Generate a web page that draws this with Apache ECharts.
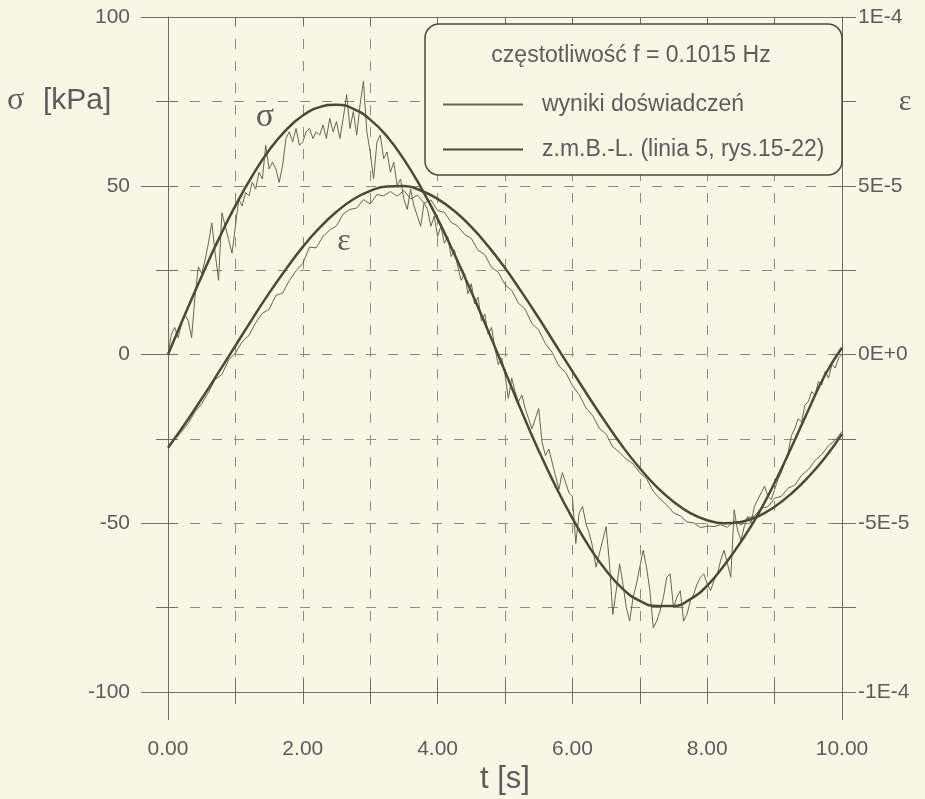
<!DOCTYPE html>
<html>
<head>
<meta charset="utf-8">
<script src="https://cdn.jsdelivr.net/npm/echarts@6/dist/echarts.min.js"></script>
<style>
html,body{margin:0;padding:0;background:#f8f7e6;}
#c{width:925px;height:799px;}
</style>
</head>
<body>
<div id="c"></div>
<script>
// ---- data ----
const tModel = [0,0.25,0.5,0.75,1,1.25,1.5,1.75,2,2.25,2.5,2.75,3,3.25,3.5,3.75,4,4.25,4.5,4.75,5,5.25,5.5,5.75,6,6.25,6.5,6.75,7,7.25,7.5,7.75,8,8.25,8.5,8.75,9,9.25,9.5,9.75,10];
const sigmaModel = [0,11.8,23.2,34.1,44.1,52.9,60.5,66.5,70.8,73.3,74.0,72.8,69.6,64.6,57.8,49.6,40.2,29.7,18.6,7.0,-5.0,-17.0,-28.5,-39.0,-48.5,-57.0,-64.0,-69.5,-73.0,-74.5,-74.5,-72.5,-68.5,-62.5,-55.5,-47.5,-38.0,-27.5,-16.5,-6.0,2.0];
const epsModel = [-27.6e-6,-20.6e-6,-13.1e-6,-5.3e-6,2.6e-6,10.5e-6,18.2e-6,25.3e-6,31.9e-6,37.6e-6,42.3e-6,46.0e-6,48.5e-6,49.8e-6,49.9e-6,48.6e-6,46.1e-6,42.5e-6,37.8e-6,32.1e-6,25.6e-6,18.4e-6,10.8e-6,2.9e-6,-5.0e-6,-12.8e-6,-20.3e-6,-27.4e-6,-33.7e-6,-39.2e-6,-43.6e-6,-47.0e-6,-49.1e-6,-50.0e-6,-49.6e-6,-48.0e-6,-45.1e-6,-41.2e-6,-36.3e-6,-30.5e-6,-23.6e-6];

const tSigmaExp = [0,0.05,0.1,0.15,0.2,0.25,0.3,0.35,0.4,0.45,0.5,0.55,0.6,0.65,0.7,0.75,0.8,0.85,0.9,0.95,
1,1.05,1.1,1.15,1.2,1.25,1.3,1.35,1.4,1.45,1.5,1.55,1.6,1.65,1.7,1.75,1.8,1.85,1.9,1.95,
2,2.05,2.1,2.15,2.2,2.25,2.3,2.35,2.4,2.45,2.5,2.55,2.6,2.65,2.7,2.75,2.8,2.85,2.9,2.95,
3,3.05,3.1,3.15,3.2,3.25,3.3,3.35,3.4,3.45,3.5,3.55,3.6,3.65,3.7,3.75,3.8,3.85,3.9,3.95,
4,4.05,4.1,4.15,4.2,4.25,4.3,4.35,4.4,4.45,4.5,4.55,4.6,4.65,4.7,4.75,4.8,4.85,4.9,4.95,
5,5.05,5.1,5.15,5.2,5.25,5.3,5.35,5.4,5.45,5.5,5.55,5.6,5.65,5.7,5.75,5.8,5.85,5.9,5.95,
6,6.05,6.1,6.15,6.2,6.25,6.3,6.35,6.4,6.45,6.5,6.55,6.6,6.65,6.7,6.75,6.8,6.85,6.9,6.95,
7,7.05,7.1,7.15,7.2,7.25,7.3,7.35,7.4,7.45,7.5,7.55,7.6,7.65,7.7,7.75,7.8,7.85,7.9,7.95,
8,8.05,8.1,8.15,8.2,8.25,8.3,8.35,8.4,8.45,8.5,8.55,8.6,8.65,8.7,8.75,8.8,8.85,8.9,8.95,
9,9.05,9.1,9.15,9.2,9.25,9.3,9.35,9.4,9.45,9.5,9.55,9.6,9.65,9.7,9.75,9.8,9.85,9.9,9.95,10];
const sigmaExp = [0,6,8,5,9,12,10,5,17,26,24,28,33,39,30,22,42,38,34,30,
38,46,44,48,47,51,49,54,52,62,55,57,55,51,56,64,66,63,67,62,
63,66,67,64,66,65,68,64,70,66,69,64,70,77,67,72,65,74,81,66,
60,52,63,65,58,60,54,57,50,52,46,43,49,44,41,38,45,43,38,41,
35,38,33,35,29,31,26,22,24,18,21,15,17,10,12,6,8,2,-3,-1,
-6,-13,-7,-11,-14,-12,-16,-19,-22,-19,-16,-26,-30,-28,-32,-36,-40,-35,-38,-41,
-42,-56,-47,-45,-50,-53,-57,-63,-59,-55,-51,-62,-77,-70,-62,-68,-75,-79,-72,-68,
-63,-58,-63,-70,-81,-79,-76,-72,-66,-65,-75,-72,-70,-79,-77,-73,-71,-68,-66,-65,
-68,-70,-67,-65,-61,-58,-62,-66,-46,-52,-55,-51,-48,-50,-45,-43,-41,-39,-42,-43,
-40,-37,-35,-32,-29,-24,-22,-19,-20,-15,-14,-11,-12,-8,-9,-5,-7,-3,-4,-1,0];

const tEpsExp = [0,0.1,0.2,0.3,0.4,0.5,0.6,0.7,0.8,0.9,1,1.1,1.2,1.3,1.4,1.5,1.6,1.7,1.8,1.9,
2,2.1,2.2,2.3,2.4,2.5,2.6,2.7,2.8,2.9,3,3.1,3.2,3.3,3.4,3.5,3.6,3.7,3.8,3.9,
4,4.1,4.2,4.3,4.4,4.5,4.6,4.7,4.8,4.9,5,5.1,5.2,5.3,5.4,5.5,5.6,5.7,5.8,5.9,
6,6.1,6.2,6.3,6.4,6.5,6.6,6.7,6.8,6.9,7,7.1,7.2,7.3,7.4,7.5,7.6,7.7,7.8,7.9,
8,8.1,8.2,8.3,8.4,8.5,8.6,8.7,8.8,8.9,9,9.1,9.2,9.3,9.4,9.5,9.6,9.7,9.8,9.9,10];
const epsExp = [-27.0e-6,-25.2e-6,-22.9e-6,-20.4e-6,-17.0e-6,-14.6e-6,-11.2e-6,-7.4e-6,-5.9e-6,-1.6e-6,
0.4e-6,3.8e-6,5.6e-6,9.4e-6,12.2e-6,13.4e-6,17.5e-6,18.2e-6,21.9e-6,24.8e-6,
27.0e-6,31.8e-6,31.6e-6,35.0e-6,36.9e-6,38.1e-6,41.7e-6,43.0e-6,43.4e-6,45.9e-6,
44.6e-6,47.4e-6,47.0e-6,48.3e-6,46.9e-6,48.6e-6,46.1e-6,47.2e-6,44.9e-6,45.8e-6,
42.7e-6,42.1e-6,39.2e-6,38.0e-6,35.6e-6,34.4e-6,30.9e-6,29.6e-6,25.8e-6,24.4e-6,
20.7e-6,19.0e-6,15.2e-6,13.4e-6,9.1e-6,7.3e-6,3.2e-6,0.6e-6,-3.4e-6,-5.3e-6,
-9.2e-6,-11.9e-6,-15.8e-6,-18.1e-6,-21.9e-6,-23.6e-6,-27.4e-6,-29.0e-6,-31.0e-6,-32.4e-6,
-35.0e-6,-36.8e-6,-40.5e-6,-42.8e-6,-44.6e-6,-46.9e-6,-47.8e-6,-49.6e-6,-49.9e-6,-51.3e-6,
-50.8e-6,-51.0e-6,-50.4e-6,-51.2e-6,-49.3e-6,-50.5e-6,-48.4e-6,-47.9e-6,-45.6e-6,-45.1e-6,
-42.6e-6,-42.0e-6,-39.6e-6,-38.7e-6,-35.8e-6,-34.1e-6,-31.4e-6,-29.6e-6,-27.0e-6,-25.4e-6,-22.8e-6];

const xTickLabels = ['0.00','2.00','4.00','6.00','8.00','10.00'];
const yLeftTickLabels = ['-100','-50','0','50','100'];
const yRightTickLabels = ['-1E-4','-5E-5','0E+0','5E-5','1E-4'];
const legendNames = ['wyniki doświadczeń','z.m.B.-L. (linia 5, rys.15-22)'];
const legendTitle = 'częstotliwość f = 0.1015 Hz';

// ---- style ----
const BG = '#f8f7e5', INK = '#4f4837', THIN = '#6b6452', AXIS = '#6f6d66', GRIDC = '#8e8c82', TXT = '#5c5c5c';
const FONT = '"Liberation Sans", Arial, sans-serif';
const SERIF = '"Liberation Serif", "DejaVu Serif", serif';

const pair = (t, v) => t.map((x, i) => [x, v[i]]);
const tickAxisX = (extra) => Object.assign({
  type: 'value', min: 0, max: 10, interval: 1,
  axisLine: {show: false, onZero: false},
  axisTick: {show: true, length: 12, lineStyle: {color: AXIS}},
  axisLabel: {show: false}, splitLine: {show: false}
}, extra);
const tickAxisY = (extra) => Object.assign({
  type: 'value', min: -100, max: 100, interval: 25, position: 'left',
  axisLine: {show: false, onZero: false},
  axisTick: {show: true, length: 10, lineStyle: {color: AXIS}},
  axisLabel: {show: false}, splitLine: {show: false}
}, extra);

const chart = echarts.init(document.getElementById('c'));
chart.setOption({
  backgroundColor: BG,
  animation: false,
  grid: {left: 168, right: 83, top: 17, bottom: 107},
  legend: {
    data: legendNames, orient: 'vertical', left: 437, top: 88,
    itemWidth: 80, itemHeight: 14, itemGap: 22, selectedMode: false, z: 6,
    itemStyle: {opacity: 0},
    textStyle: {fontSize: 23, fontFamily: FONT, color: TXT, padding: [0, 0, 0, 14]}
  },
  xAxis: [
    {
      type: 'value', min: 0, max: 10, interval: 1, position: 'bottom',
      axisLine: {show: true, onZero: false, lineStyle: {color: AXIS, width: 1}},
      axisTick: {show: true, length: 12, lineStyle: {color: AXIS}},
      axisLabel: {margin: 47, color: TXT, fontSize: 21, fontFamily: FONT,
        formatter: v => { const k = Math.round(v); return k % 2 === 0 ? xTickLabels[k / 2] : ''; }},
      splitLine: {show: true, lineStyle: {color: GRIDC, width: 1, type: [10, 12]}}
    },
    tickAxisX({position: 'bottom', axisTick: {show: true, inside: true, length: 12, lineStyle: {color: AXIS}}}),
    tickAxisX({position: 'top', axisLine: {show: true, onZero: false, lineStyle: {color: AXIS}},
      axisTick: {show: true, inside: true, length: 8, lineStyle: {color: AXIS}}}),
    tickAxisX({position: 'bottom', interval: 10, axisTick: {show: true, length: 28, lineStyle: {color: AXIS}}})
  ],
  yAxis: [
    {
      type: 'value', min: -100, max: 100, interval: 25, position: 'left',
      axisLine: {show: true, onZero: false, lineStyle: {color: AXIS}},
      axisTick: {show: true, length: 12, lineStyle: {color: AXIS}},
      axisLabel: {margin: 38, color: TXT, fontSize: 21, fontFamily: FONT,
        formatter: v => { const k = Math.round(v / 25); return k % 2 === 0 ? yLeftTickLabels[k / 2 + 2] : ''; }},
      splitLine: {show: true, lineStyle: {color: GRIDC, width: 1, type: [10, 12]}}
    },
    tickAxisY({axisTick: {show: true, inside: true, length: 10, lineStyle: {color: AXIS}}}),
    {
      type: 'value', min: -1e-4, max: 1e-4, interval: 2.5e-5, position: 'right',
      axisLine: {show: true, onZero: false, lineStyle: {color: AXIS}},
      axisTick: {show: true, length: 14, lineStyle: {color: AXIS}},
      axisLabel: {margin: 16, color: TXT, fontSize: 21, fontFamily: FONT,
        formatter: v => { const k = Math.round(v / 2.5e-5); return k % 2 === 0 ? yRightTickLabels[k / 2 + 2] : ''; }},
      splitLine: {show: false}
    },
    {
      type: 'value', min: -1e-4, max: 1e-4, interval: 2.5e-5, position: 'right',
      axisLine: {show: false, onZero: false},
      axisTick: {show: true, inside: true, length: 10, lineStyle: {color: AXIS}},
      axisLabel: {show: false}, splitLine: {show: false}
    },
    tickAxisY({interval: 50, axisTick: {show: true, length: 27, lineStyle: {color: AXIS}}})
  ],
  series: [
    {name: legendNames[0], type: 'line', xAxisIndex: 0, yAxisIndex: 0, data: pair(tSigmaExp, sigmaExp),
      symbol: 'none', showSymbol: false, lineStyle: {width: 1, color: THIN}, itemStyle: {color: THIN}, z: 2},
    {name: legendNames[0], type: 'line', xAxisIndex: 0, yAxisIndex: 2, data: pair(tEpsExp, epsExp),
      symbol: 'none', showSymbol: false, lineStyle: {width: 1, color: THIN}, itemStyle: {color: THIN}, z: 2},
    {name: legendNames[1], type: 'line', xAxisIndex: 0, yAxisIndex: 0, data: pair(tModel, sigmaModel), smooth: true,
      symbol: 'none', showSymbol: false, lineStyle: {width: 2.5, color: INK}, itemStyle: {color: INK}, z: 3},
    {name: legendNames[1], type: 'line', xAxisIndex: 0, yAxisIndex: 2, data: pair(tModel, epsModel), smooth: true,
      symbol: 'none', showSymbol: false, lineStyle: {width: 2.5, color: INK}, itemStyle: {color: INK}, z: 3}
  ],
  graphic: [
    {type: 'rect', z: 4, shape: {x: 425, y: 24, width: 417, height: 151, r: 14},
      style: {fill: BG, stroke: INK, lineWidth: 1.5}},
    {type: 'text', z: 5, x: 631, y: 56, style: {text: legendTitle, fontSize: 23, fontFamily: FONT, fill: TXT, align: 'center', verticalAlign: 'middle'}},
    {type: 'text', z: 5, x: 7, y: 101, style: {text: 'σ', fontSize: 32, fontFamily: SERIF, fill: TXT, align: 'left', verticalAlign: 'middle'}},
    {type: 'text', z: 5, x: 43, y: 101, style: {text: '[kPa]', fontSize: 30, fontFamily: FONT, fill: TXT, align: 'left', verticalAlign: 'middle'}},
    {type: 'text', z: 5, x: 905, y: 102, style: {text: 'ε', fontSize: 30, fontFamily: SERIF, fill: TXT, align: 'center', verticalAlign: 'middle'}},
    {type: 'text', z: 5, x: 505, y: 779, style: {text: 't [s]', fontSize: 31, fontFamily: FONT, fill: TXT, align: 'center', verticalAlign: 'middle'}},
    {type: 'text', z: 5, x: 265, y: 117, style: {text: 'σ', fontSize: 34, fontFamily: SERIF, fill: TXT, align: 'center', verticalAlign: 'middle'}},
    {type: 'text', z: 5, x: 344, y: 242, style: {text: 'ε', fontSize: 32, fontFamily: SERIF, fill: TXT, align: 'center', verticalAlign: 'middle'}}
  ]
});
</script>
</body>
</html>
